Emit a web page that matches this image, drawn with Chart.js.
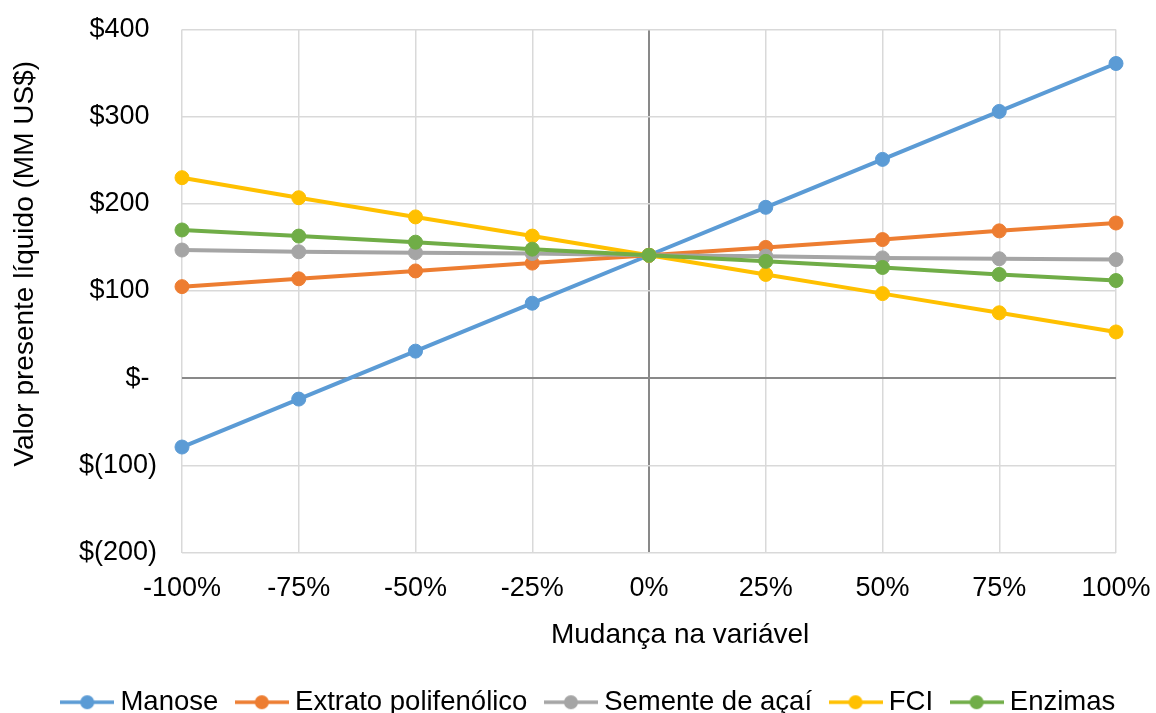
<!DOCTYPE html>
<html lang="pt-BR">
<head>
<meta charset="utf-8">
<title>Valor presente líquido - análise de sensibilidade</title>
<script src="https://cdn.jsdelivr.net/npm/chart.js@4/dist/chart.umd.min.js"></script>
<style>
  html, body { margin: 0; padding: 0; background: #ffffff; }
  #wrap { width: 1156px; height: 713px; position: relative; }
</style>
</head>
<body>
<div id="wrap"><canvas id="chart" width="1156" height="713"></canvas></div>
<script>
// Variation applied to each input (%)
const changes = [-100, -75, -50, -25, 0, 25, 50, 75, 100];

// Net present value (MM US$) for each variation
const manose   = [-79, -24, 31, 86, 141, 196, 251, 306, 361];
const extrato  = [105, 114, 123, 132, 141, 150, 159, 169, 178];
const semente  = [147, 145, 144, 143, 141, 140, 138, 137, 136];
const fci      = [230, 207, 185, 163, 141, 119, 97, 75, 53];
const enzimas  = [170, 163, 156, 148, 141, 134, 127, 119, 112];

const seriesNames  = ['Manose', 'Extrato polifenólico', 'Semente de açaí', 'FCI', 'Enzimas'];
const seriesValues = [manose, extrato, semente, fci, enzimas];
const seriesColors = ['#5B9BD5', '#ED7D31', '#A5A5A5', '#FFC000', '#70AD47'];

const yTicks = [-200, -100, 0, 100, 200, 300, 400];

const FONT = "'Liberation Sans', Arial, sans-serif";
const GRID = '#D9D9D9';
const AXIS = '#898989';

// Legend swatch: short line with a round marker in the middle
function swatch(color) {
  const c = document.createElement('canvas');
  c.width = 54; c.height = 16;
  const g = c.getContext('2d');
  g.strokeStyle = color; g.lineWidth = 3.5;
  g.beginPath(); g.moveTo(0, 8); g.lineTo(54, 8); g.stroke();
  g.fillStyle = color;
  g.beginPath(); g.arc(27, 8, 7, 0, Math.PI * 2); g.fill();
  return c;
}

function money(v) {
  if (v === 0) return '$-\u00a0';
  if (v < 0) return '$(' + Math.abs(v) + ')';
  return '$' + v + '\u00a0';
}

// Keep the plot edges fixed: tick labels may overhang into the margins
function fixedEdges(left, top, right, bottom) {
  return (scale) => {
    scale.paddingLeft = left;
    scale.paddingTop = top;
    scale.paddingRight = right;
    scale.paddingBottom = bottom;
  };
}

const datasets = seriesNames.map((name, i) => ({
  label: name,
  data: changes.map((x, k) => ({ x: x, y: seriesValues[i][k] })),
  borderColor: seriesColors[i],
  backgroundColor: seriesColors[i],
  pointBackgroundColor: seriesColors[i],
  pointBorderColor: seriesColors[i],
  borderWidth: 4,
  pointRadius: 7,
  pointBorderWidth: 1,
  pointHoverRadius: 7,
  tension: 0,
  clip: false,
  order: seriesNames.length - i
}));

const xEdges = fixedEdges(0, 0, 40, 0);
const yEdges = fixedEdges(0, 0, 0, 0);

new Chart(document.getElementById('chart'), {
  type: 'line',
  data: { datasets: datasets },
  options: {
    responsive: false,
    animation: false,
    layout: { autoPadding: false, padding: { top: 29.5, right: -27, bottom: -13, left: 0 } },
    plugins: {
      tooltip: { enabled: false },
      legend: {
        display: true,
        position: 'bottom',
        labels: {
          font: { family: FONT, size: 27.5 },
          color: '#000000',
          usePointStyle: true,
          pointStyleWidth: 39,
          padding: 24,
          generateLabels: (chart) => chart.data.datasets.map((ds, i) => ({
            text: ds.label,
            fillStyle: ds.borderColor,
            strokeStyle: ds.borderColor,
            fontColor: '#000000',
            lineWidth: 0,
            pointStyle: swatch(ds.borderColor),
            hidden: false,
            datasetIndex: i
          }))
        }
      }
    },
    scales: {
      x: {
        type: 'linear',
        min: changes[0],
        max: changes[changes.length - 1],
        afterBuildTicks: (scale) => { scale.ticks = changes.map(v => ({ value: v })); },
        ticks: {
          font: { family: FONT, size: 27 },
          color: '#000000',
          padding: 20,
          maxRotation: 0,
          autoSkip: false,
          callback: (v) => v + '%'
        },
        grid: {
          drawTicks: false,
          lineWidth: (ctx) => (ctx.tick && ctx.tick.value === 0 ? 2 : 1.5),
          color: (ctx) => (ctx.tick && ctx.tick.value === 0 ? AXIS : GRID)
        },
        border: { display: false },
        title: {
          display: true,
          text: '\u00a0\u00a0\u00a0\u00a0\u00a0\u00a0\u00a0\u00a0Mudança na variável',
          font: { family: FONT, size: 28 },
          color: '#000000',
          padding: { top: 0, bottom: 12 }
        },
        afterFit: (scale) => { scale.height = 112; xEdges(scale); }
      },
      y: {
        type: 'linear',
        min: yTicks[0],
        max: yTicks[yTicks.length - 1],
        afterBuildTicks: (scale) => { scale.ticks = yTicks.map(v => ({ value: v })); },
        ticks: {
          font: { family: FONT, size: 27 },
          color: '#000000',
          padding: 25,
          callback: (v) => money(v)
        },
        grid: {
          drawTicks: false,
          lineWidth: (ctx) => (ctx.tick && ctx.tick.value === 0 ? 2 : 1.5),
          color: (ctx) => (ctx.tick && ctx.tick.value === 0 ? AXIS : GRID)
        },
        border: { display: false },
        title: {
          display: true,
          text: '\u00a0\u00a0\u00a0\u00a0\u00a0\u00a0\u00a0Valor presente líquido (MM US$)',
          font: { family: FONT, size: 28 },
          color: '#000000',
          padding: { top: 8, bottom: 0 }
        },
        afterFit: (scale) => { scale.width = 182; yEdges(scale); }
      }
    }
  }
});
</script>
</body>
</html>
